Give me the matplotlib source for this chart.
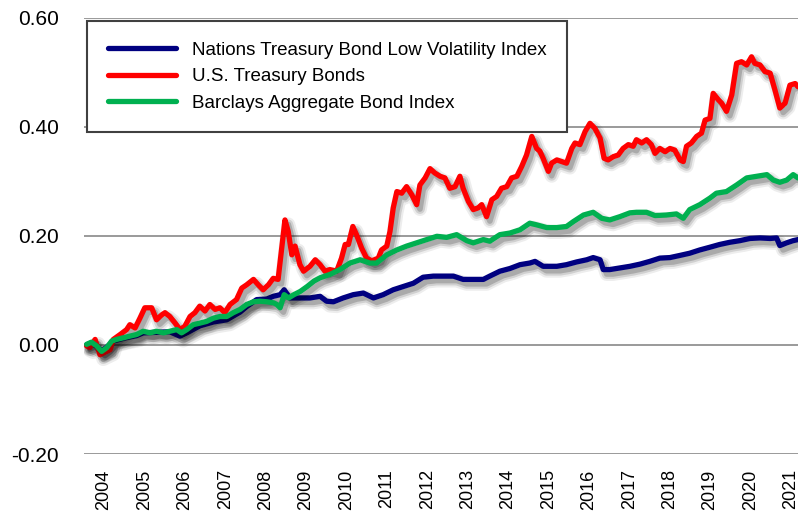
import numpy as np
import matplotlib
matplotlib.use("Agg")
import matplotlib.pyplot as plt
import matplotlib.patheffects as pe

plt.rcParams['font.family'] = ['Liberation Sans', 'DejaVu Sans']

# --- data (decimal year, cumulative return) ---
navy_x = [2003.57, 2003.69, 2003.82, 2003.94, 2004.07, 2004.23, 2004.48, 2004.81, 2004.97,
          2005.30, 2005.63, 2005.88, 2006.05, 2006.38, 2006.71, 2007.04, 2007.37, 2007.53,
          2007.78, 2008.03, 2008.19, 2008.36, 2008.46, 2008.60, 2008.85, 2009.10, 2009.35,
          2009.51, 2009.68, 2009.92, 2010.17, 2010.42, 2010.67, 2010.91, 2011.16, 2011.41,
          2011.66, 2011.90, 2012.15, 2012.40, 2012.65, 2012.89, 2013.14, 2013.39, 2013.55,
          2013.80, 2014.05, 2014.30, 2014.54, 2014.67, 2014.87, 2015.04, 2015.21, 2015.45,
          2015.70, 2015.95, 2016.11, 2016.28, 2016.36, 2016.52, 2016.77, 2017.02, 2017.27,
          2017.51, 2017.76, 2018.01, 2018.26, 2018.50, 2018.75, 2019.00, 2019.24, 2019.49,
          2019.74, 2019.99, 2020.24, 2020.49, 2020.65, 2020.73, 2020.90, 2021.06, 2021.18]
navy_y = [0.000, 0.004, -0.003, -0.011, -0.004, 0.007, 0.012, 0.017, 0.022,
          0.023, 0.024, 0.016, 0.022, 0.035, 0.042, 0.046, 0.060, 0.070,
          0.083, 0.084, 0.089, 0.092, 0.101, 0.086, 0.086, 0.086, 0.089,
          0.080, 0.079, 0.086, 0.092, 0.095, 0.086, 0.092, 0.101, 0.107,
          0.113, 0.124, 0.126, 0.126, 0.126, 0.120, 0.120, 0.120, 0.126,
          0.135, 0.140, 0.147, 0.150, 0.153, 0.144, 0.144, 0.144, 0.147,
          0.152, 0.156, 0.160, 0.156, 0.138, 0.138, 0.141, 0.144, 0.148,
          0.153, 0.159, 0.160, 0.164, 0.168, 0.174, 0.179, 0.184, 0.188,
          0.191, 0.195, 0.196, 0.195, 0.196, 0.182, 0.187, 0.191, 0.193]

red_x = [2003.57, 2003.65, 2003.78, 2003.90, 2004.15, 2004.23, 2004.40, 2004.56, 2004.64,
         2004.77, 2004.89, 2005.01, 2005.18, 2005.30, 2005.43, 2005.51, 2005.63, 2005.76,
         2005.88, 2006.00, 2006.13, 2006.25, 2006.37, 2006.50, 2006.62, 2006.75, 2006.87,
         2006.99, 2007.12, 2007.28, 2007.41, 2007.53, 2007.70, 2007.82, 2007.94, 2008.07,
         2008.19, 2008.31, 2008.40, 2008.48, 2008.56, 2008.65, 2008.73, 2008.85, 2008.94,
         2009.10, 2009.23, 2009.35, 2009.47, 2009.59, 2009.76, 2009.88, 2009.97, 2010.05,
         2010.16, 2010.25, 2010.38, 2010.50, 2010.63, 2010.79, 2010.87, 2011.00, 2011.08,
         2011.16, 2011.25, 2011.37, 2011.49, 2011.62, 2011.74, 2011.82, 2011.95, 2012.07,
         2012.19, 2012.32, 2012.44, 2012.56, 2012.69, 2012.81, 2012.89, 2013.02, 2013.14,
         2013.26, 2013.35, 2013.47, 2013.60, 2013.72, 2013.84, 2013.97, 2014.09, 2014.22,
         2014.34, 2014.46, 2014.59, 2014.71, 2014.79, 2014.87, 2015.00, 2015.08, 2015.21,
         2015.33, 2015.45, 2015.58, 2015.66, 2015.78, 2015.91, 2016.03, 2016.15, 2016.28,
         2016.38, 2016.48, 2016.61, 2016.73, 2016.85, 2016.98, 2017.10, 2017.18, 2017.31,
         2017.43, 2017.55, 2017.64, 2017.76, 2017.89, 2018.01, 2018.13, 2018.26, 2018.34,
         2018.42, 2018.54, 2018.67, 2018.79, 2018.88, 2019.00, 2019.08, 2019.21, 2019.29,
         2019.41, 2019.54, 2019.66, 2019.78, 2019.91, 2020.03, 2020.11, 2020.24, 2020.36,
         2020.49, 2020.61, 2020.73, 2020.86, 2020.98, 2021.11, 2021.18]
red_y = [-0.002, -0.005, 0.010, -0.018, -0.009, 0.010, 0.019, 0.028, 0.037,
         0.031, 0.049, 0.068, 0.068, 0.046, 0.055, 0.059, 0.052, 0.040,
         0.028, 0.034, 0.052, 0.059, 0.071, 0.062, 0.074, 0.065, 0.068,
         0.059, 0.074, 0.083, 0.104, 0.110, 0.120, 0.110, 0.101, 0.110,
         0.122, 0.120, 0.177, 0.229, 0.208, 0.165, 0.181, 0.147, 0.135,
         0.144, 0.156, 0.147, 0.135, 0.138, 0.135, 0.159, 0.184, 0.184,
         0.217, 0.202, 0.177, 0.159, 0.154, 0.159, 0.174, 0.181, 0.208,
         0.251, 0.281, 0.278, 0.290, 0.275, 0.257, 0.293, 0.306, 0.323,
         0.315, 0.309, 0.306, 0.287, 0.290, 0.309, 0.287, 0.263, 0.248,
         0.251, 0.257, 0.235, 0.266, 0.272, 0.287, 0.290, 0.306, 0.309,
         0.327, 0.348, 0.382, 0.360, 0.355, 0.342, 0.318, 0.333, 0.339,
         0.336, 0.333, 0.360, 0.370, 0.367, 0.391, 0.406, 0.397, 0.379,
         0.342, 0.339, 0.345, 0.348, 0.360, 0.367, 0.364, 0.376, 0.370,
         0.376, 0.367, 0.351, 0.360, 0.354, 0.360, 0.357, 0.339, 0.336,
         0.364, 0.370, 0.382, 0.388, 0.412, 0.415, 0.461, 0.449, 0.443,
         0.428, 0.458, 0.516, 0.519, 0.513, 0.528, 0.516, 0.513, 0.501,
         0.498, 0.467, 0.434, 0.443, 0.476, 0.479, 0.473]

green_x = [2003.57, 2003.69, 2003.82, 2003.94, 2004.07, 2004.19, 2004.31, 2004.48, 2004.64,
           2004.81, 2004.97, 2005.14, 2005.30, 2005.47, 2005.63, 2005.80, 2005.92, 2006.05,
           2006.21, 2006.38, 2006.54, 2006.71, 2006.87, 2007.04, 2007.20, 2007.37, 2007.53,
           2007.70, 2007.86, 2008.03, 2008.20, 2008.28, 2008.36, 2008.46, 2008.57, 2008.70,
           2008.86, 2009.03, 2009.20, 2009.35, 2009.59, 2009.84, 2010.09, 2010.34, 2010.58,
           2010.75, 2011.00, 2011.25, 2011.49, 2011.74, 2011.99, 2012.24, 2012.48, 2012.73,
           2012.98, 2013.14, 2013.39, 2013.55, 2013.80, 2014.05, 2014.30, 2014.54, 2014.71,
           2014.96, 2015.21, 2015.45, 2015.62, 2015.87, 2016.11, 2016.32, 2016.52, 2016.77,
           2017.02, 2017.18, 2017.43, 2017.64, 2017.92, 2018.17, 2018.34, 2018.50, 2018.75,
           2019.00, 2019.16, 2019.41, 2019.66, 2019.91, 2020.16, 2020.41, 2020.57, 2020.73,
           2020.90, 2021.06, 2021.18]
green_y = [0.001, 0.005, -0.002, -0.012, -0.005, 0.007, 0.010, 0.013, 0.016,
           0.019, 0.025, 0.022, 0.025, 0.022, 0.025, 0.028, 0.022, 0.028,
           0.037, 0.040, 0.043, 0.049, 0.052, 0.052, 0.059, 0.065, 0.074,
           0.079, 0.080, 0.079, 0.077, 0.074, 0.068, 0.092, 0.086, 0.092,
           0.098, 0.107, 0.117, 0.123, 0.129, 0.138, 0.150, 0.156, 0.150,
           0.150, 0.165, 0.174, 0.181, 0.187, 0.193, 0.199, 0.197, 0.202,
           0.191, 0.187, 0.193, 0.190, 0.202, 0.205, 0.211, 0.223, 0.220,
           0.215, 0.215, 0.217, 0.226, 0.238, 0.243, 0.232, 0.229, 0.235,
           0.242, 0.243, 0.243, 0.237, 0.238, 0.240, 0.232, 0.248, 0.257,
           0.269, 0.278, 0.281, 0.293, 0.306, 0.309, 0.312, 0.302, 0.298,
           0.302, 0.312, 0.306]

series_names = ["Nations Treasury Bond Low Volatility Index",
                "U.S. Treasury Bonds",
                "Barclays Aggregate Bond Index"]
series_colors = ["#000080", "#FF0000", "#00B050"]
year_ticks = list(range(2004, 2022))
y_ticks = [-0.20, 0.00, 0.20, 0.40, 0.60]

fig = plt.figure(figsize=(7.98, 5.16), dpi=100)
ax = fig.add_axes([84 / 798, 1 - 454 / 516, 1 - 84 / 798, (454 - 17.5) / 516])

# soft drop shadow under each line (stacked, widening layers)
shadow = [pe.SimpleLineShadow(offset=(2.4, -3.2), shadow_color="k", alpha=0.07, linewidth=10),
          pe.SimpleLineShadow(offset=(2.4, -3.2), shadow_color="k", alpha=0.12, linewidth=7),
          pe.SimpleLineShadow(offset=(2.4, -3.2), shadow_color="k", alpha=0.18, linewidth=4),
          pe.Normal()]

for xs, ys, c, name in zip([navy_x, red_x, green_x], [navy_y, red_y, green_y],
                           series_colors, series_names):
    ax.plot(xs, ys, color=c, lw=3.8, solid_joinstyle="round", solid_capstyle="round",
            path_effects=shadow, label=name)

ax.set_xlim(2003.505, 2021.18)
ax.set_ylim(-0.2, 0.6)
ax.set_yticks(y_ticks)
ax.set_yticklabels([f"{v:.2f}" for v in y_ticks])
ax.set_xticks(year_ticks)
ax.set_xticklabels([str(y) for y in year_ticks], rotation=90, fontsize=13)
ax.tick_params(axis="y", length=0, pad=18, labelsize=15)
ax.tick_params(axis="x", length=0, pad=11)
ax.yaxis.grid(True, color="#929292", lw=1.3)
ax.set_axisbelow(True)
for s in ax.spines.values():
    s.set_visible(False)

leg = ax.legend(loc="upper left", bbox_to_anchor=(87 / 798, 1 - 21 / 516),
                bbox_transform=fig.transFigure, fontsize=13.5, handlelength=3.65,
                handletextpad=0.85, labelspacing=0.5, borderpad=1.1, borderaxespad=0,
                fancybox=False, framealpha=1, edgecolor="#404040")
leg.get_frame().set_linewidth(1.5)
for h in leg.get_lines():
    h.set_path_effects([pe.Normal()])
    h.set_linewidth(3.8)

fig.savefig("out.png", dpi=100)
